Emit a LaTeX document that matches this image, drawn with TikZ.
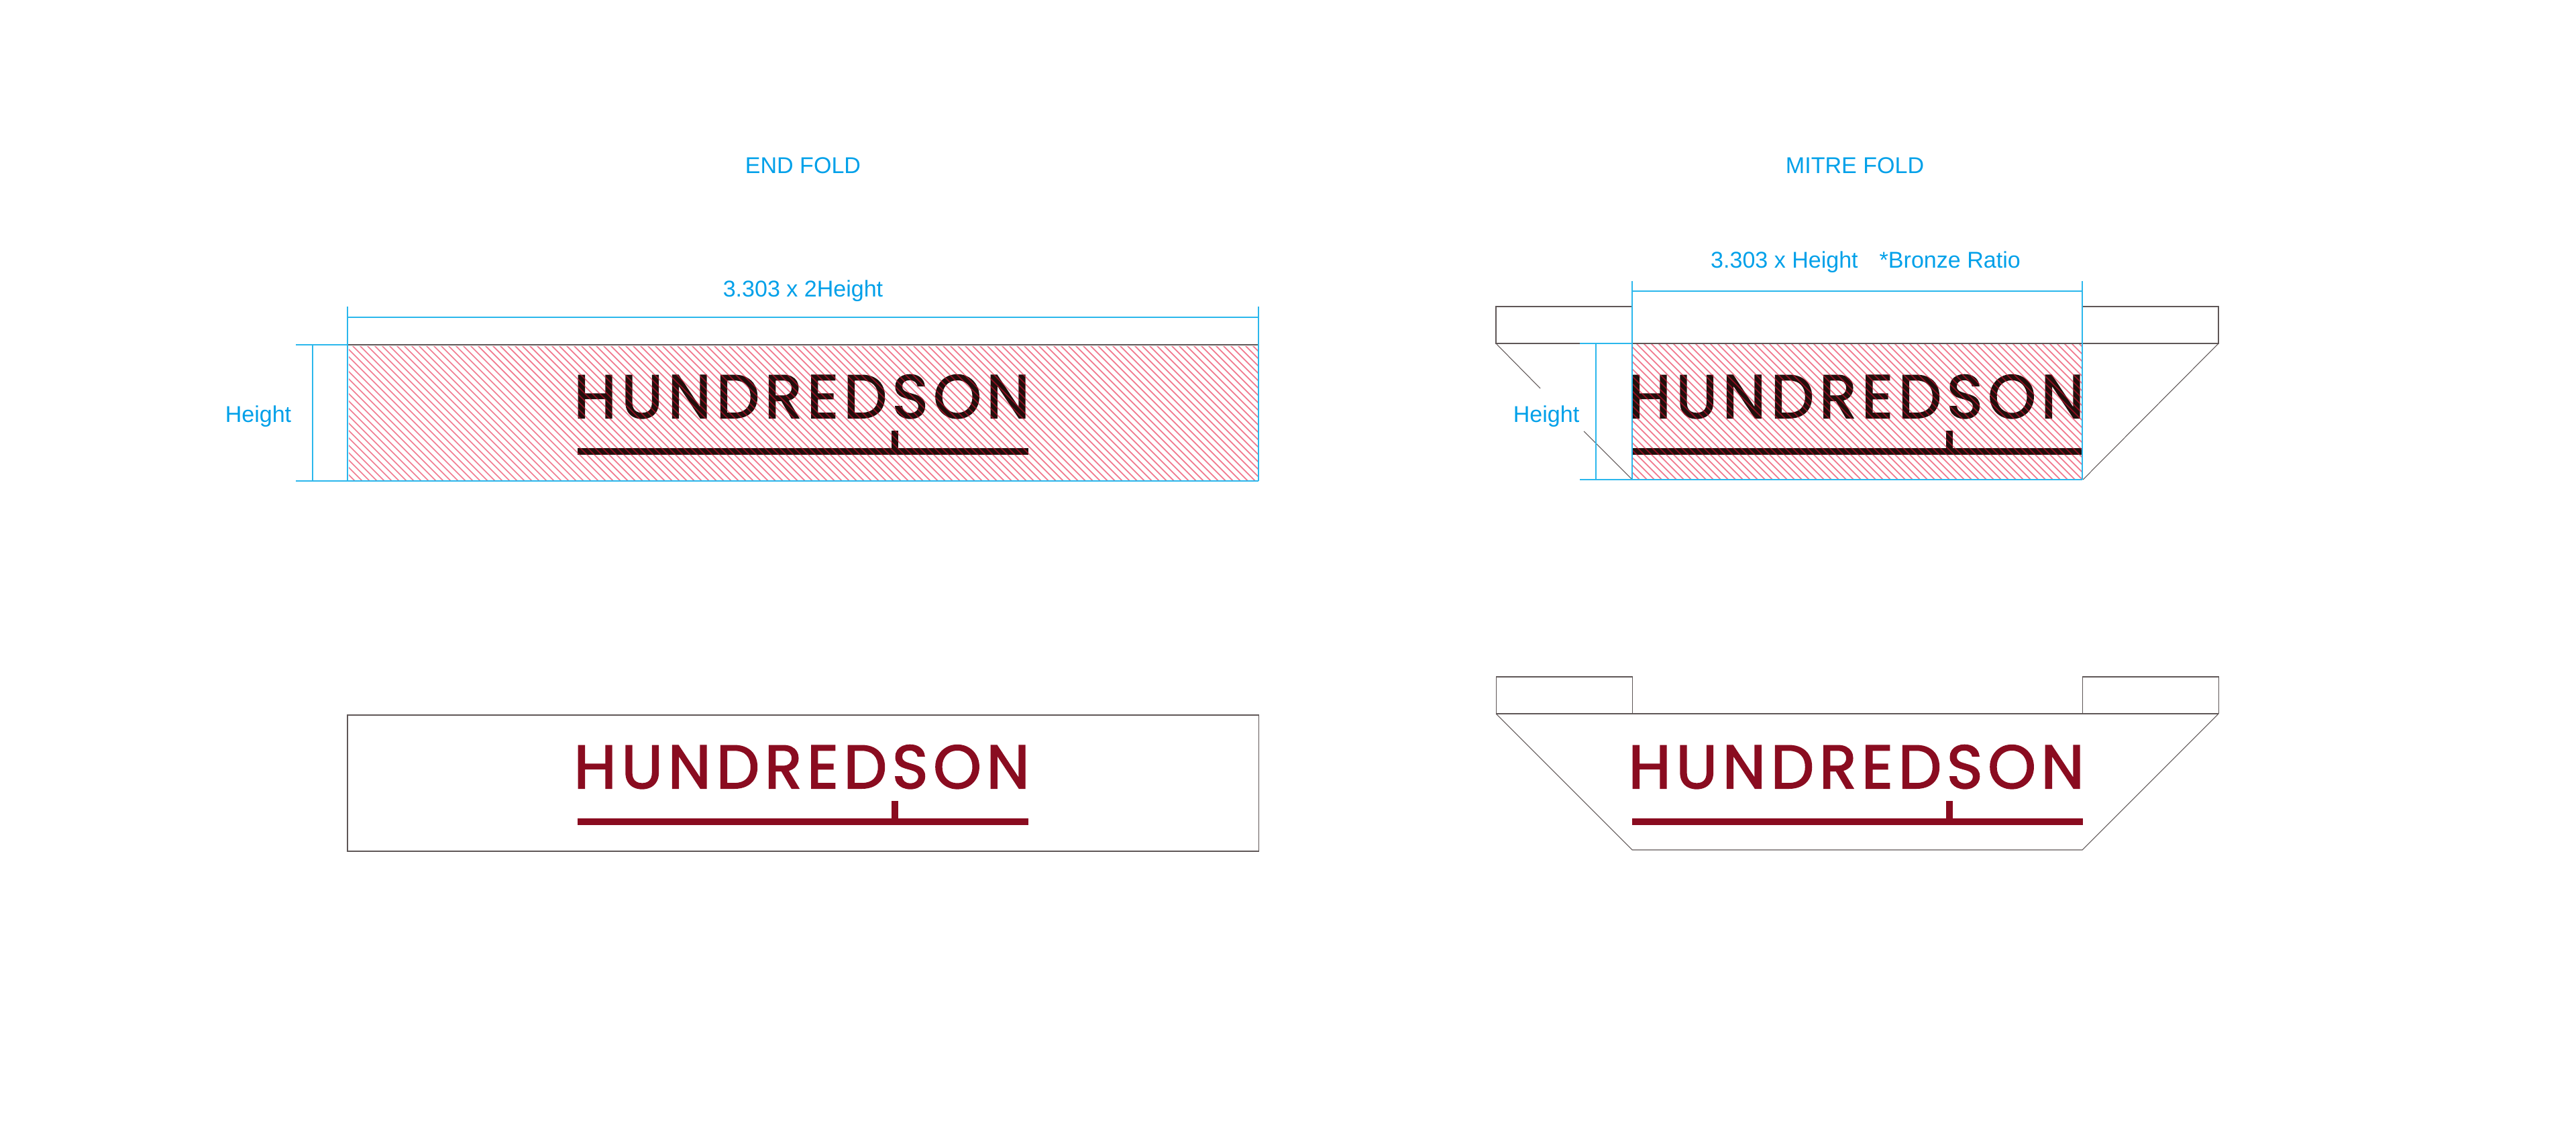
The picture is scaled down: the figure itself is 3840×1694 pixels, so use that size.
\documentclass[tikz,border=0pt]{standalone}
\usepackage{fontspec}
\setmainfont{Liberation Sans}
\newfontfamily\logofont[LetterSpace=8.6,FakeBold=2.2]{Poppins}
\definecolor{dimcyan}{HTML}{2BB7EC}
\definecolor{dimtext}{HTML}{00A0E9}
\definecolor{foldgrey}{HTML}{5F5757}
\definecolor{logored}{HTML}{8A0C20}
\definecolor{logodark}{HTML}{20100C}
\definecolor{hatchred}{HTML}{E50D33}
\tikzstyle{note} = [text=dimtext, inner sep=0pt, font=\fontsize{9.68}{12}\selectfont]
\tikzstyle{guide} = [dimcyan, line width=.42pt]
\tikzstyle{fold} = [foldgrey, line width=.5pt]
\tikzstyle{crease} = [foldgrey, line width=.3pt]
\tikzstyle{hatch} = [hatchred, opacity=.55, line width=.5pt]
\newcommand{\logomark}[3]{
	\begin{scope}[shift={(#1,#2)}]
		\fill [#3] (861,668) rectangle (1533,678);
		\fill [#3] (1329,642) rectangle (1339,668);
		\node (logo#1x#2) [anchor=base west, inner sep=0pt, text=#3, font=\logofont\fontsize{25.9}{30}\selectfont] at (855,623) {HUNDREDSON};
	\end{scope}
}
\begin{document}
\begin{tikzpicture}[x=.01cm,y=-.01cm]
	\useasboundingbox (0,0) rectangle (3840,1694);
	\node (endfold) [note] at (1197,247) {END FOLD};
	\node (mitrefold) [note] at (2765,247) {MITRE FOLD};
	\node (endwidth) [note] at (1197,434) {3.303 x 2Height};
	\node (mitrewidth) [note, anchor=west] at (2549.5,391) {3.303 x Height\hspace{.32cm}*Bronze Ratio};
	\node (endheight) [note] at (385,621) {Height};
	\node (mitreheight) [note] at (2305,621) {Height};
	\logomark{0}{0}{logodark}
	\logomark{1572}{0}{logodark}
	\logomark{0}{552}{logored}
	\logomark{1572}{552}{logored}
	\begin{scope}
		\clip (520,516) rectangle (1876,717);
		\foreach \x in {315,326,...,1876}
			\draw [hatch] (\x,514) -- ++(203,203);
	\end{scope}
	\begin{scope}
		\clip (2433,512) rectangle (3104,715);
		\foreach \x in {2230,2241,...,3104}
			\draw [hatch] (\x,512) -- ++(203,203);
	\end{scope}
	\draw [fold] (518,514) -- (1876,514);
	\draw [guide] (518,457) -- (518,717);
	\draw [guide] (1876,457) -- (1876,717);
	\draw [guide] (518,473) -- (1876,473);
	\draw [guide] (441,514) -- (518,514);
	\draw [guide] (441,717) -- (1876,717);
	\draw [guide] (466,514) -- (466,717);
	\draw [fold] (2433,512) -- (2230,512) -- (2230,457) -- (2433,457);
	\draw [fold] (2433,512) -- (3307,512) -- (3307,457) -- (3104,457);
	\draw [crease] (2230,512) -- (2296,579);
	\draw [crease] (2361,643) -- (2433,715);
	\draw [crease] (3307,512) -- (3105,715);
	\draw [guide] (2433,419) -- (2433,715);
	\draw [guide] (3104,419) -- (3104,715);
	\draw [guide] (2433,434) -- (3104,434);
	\draw [guide] (2355,512) -- (2433,512);
	\draw [guide] (2355,715) -- (3104,715);
	\draw [guide] (2379,512) -- (2379,715);
	\draw [crease] (518,1066) rectangle (1876,1269);
	\draw [fold] (2230,1064) -- (3307,1064);
	\draw [crease] (2230,1064) -- (2230,1009) -- (2433,1009) -- (2433,1064);
	\draw [crease] (3104,1064) -- (3104,1009) -- (3307,1009) -- (3307,1064);
	\draw [crease] (2230,1064) -- (2433,1267) -- (3104,1267) -- (3307,1064);
\end{tikzpicture}
\end{document}
